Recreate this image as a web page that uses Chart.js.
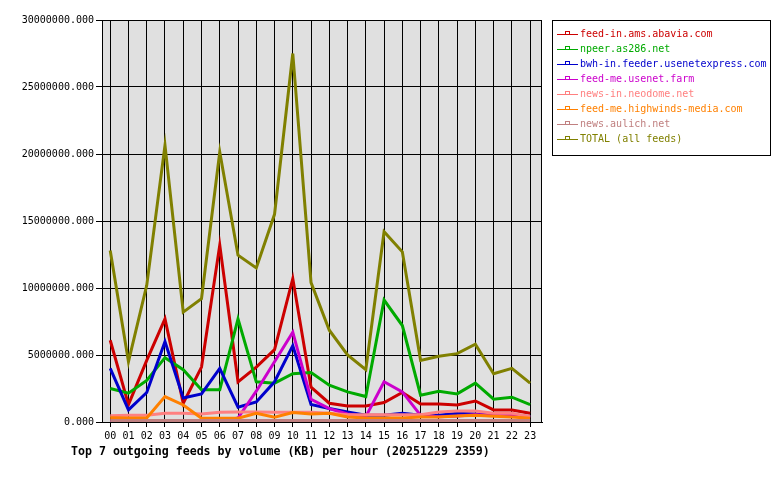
<!DOCTYPE html>
<html>
<head>
<meta charset="utf-8">
<script src="https://cdn.jsdelivr.net/npm/chart.js@4"></script>
<style>
  body { margin: 0; background: #fff; }
  #wrap { position: relative; width: 780px; height: 480px; background: #fff; }
  #legend {
    position: absolute; left: 552px; top: 20px; width: 213px; height: 125px;
    border: 1px solid #000; padding: 5px 0 4px 4px; box-sizing: content-box;
    font: 10px "DejaVu Sans Mono", monospace;
  }
  #legend div { height: 15px; line-height: 15px; white-space: nowrap; }
  .mk { display: inline-block; position: relative; width: 21px; height: 1px; vertical-align: middle; margin-right: 2px; }
  .mk i { position: absolute; left: 8px; top: -3px; width: 3px; height: 2px; border: 1px solid; border-bottom: none; }
  #title {
    position: absolute; left: 71px; top: 444px;
    font: bold 11.6px "DejaVu Sans Mono", monospace; color: #000; white-space: nowrap;
  }
</style>
</head>
<body>
<div id="wrap">
  <canvas id="chart" width="780" height="480"></canvas>
  <div id="legend"></div>
  <div id="title">Top 7 outgoing feeds by volume (KB) per hour (20251229 2359)</div>
</div>
<script>
const hours = ["00","01","02","03","04","05","06","07","08","09","10","11",
               "12","13","14","15","16","17","18","19","20","21","22","23"]

const feedNames = [
  "feed-in.ams.abavia.com",
  "npeer.as286.net",
  "bwh-in.feeder.usenetexpress.com",
  "feed-me.usenet.farm",
  "news-in.neodome.net",
  "feed-me.highwinds-media.com",
  "news.aulich.net",
  "TOTAL (all feeds)"
]
const feedColors = ["#cc0000", "#00aa00", "#0000cc", "#cc00cc", "#ff8080", "#ff8000", "#c08080", "#808000"]

// KB per hour
const abavia = [6100000, 1300000, 4600000, 7700000, 1400000, 4100000, 13200000, 3000000, 4100000, 5400000, 10700000, 2600000,
                1400000, 1200000, 1200000, 1450000, 2200000, 1350000, 1350000, 1270000, 1570000, 900000, 900000, 650000]
const as286 = [2500000, 2150000, 3100000, 4800000, 3900000, 2400000, 2400000, 7700000, 3000000, 2900000, 3600000, 3700000,
               2750000, 2250000, 1900000, 9100000, 7200000, 2000000, 2300000, 2100000, 2900000, 1700000, 1850000, 1300000]
const usenetexpress = [4000000, 900000, 2200000, 6000000, 1800000, 2100000, 4000000, 1100000, 1500000, 3000000, 5700000, 1300000,
                       1000000, 750000, 500000, 500000, 650000, 500000, 500000, 650000, 600000, 500000, 550000, 400000]
const usenetFarm = [0, 0, 0, 0, 0, 0, 0, 300000, 2300000, 4500000, 6700000, 1700000,
                    1000000, 600000, 400000, 3000000, 2250000, 500000, 400000, 450000, 550000, 500000, 550000, 350000]
const neodome = [470000, 500000, 500000, 650000, 650000, 600000, 720000, 750000, 750000, 720000, 720000, 720000,
                 650000, 550000, 550000, 550000, 550000, 550000, 750000, 820000, 820000, 650000, 650000, 400000]
const highwinds = [320000, 300000, 300000, 1900000, 1270000, 280000, 280000, 280000, 650000, 350000, 700000, 600000,
                   650000, 370000, 300000, 300000, 300000, 370000, 370000, 450000, 500000, 420000, 370000, 280000]
const aulich = [120000, 120000, 120000, 120000, 120000, 120000, 120000, 120000, 120000, 120000, 120000, 120000,
                120000, 120000, 120000, 120000, 120000, 120000, 120000, 120000, 120000, 120000, 120000, 120000]
const total = [12800000, 4500000, 10200000, 20650000, 8200000, 9200000, 20150000, 12450000, 11500000, 15500000, 27500000, 10400000,
               6850000, 5000000, 3900000, 14200000, 12700000, 4600000, 4900000, 5100000, 5800000, 3600000, 4000000, 2900000]

const series = [abavia, as286, usenetexpress, usenetFarm, neodome, highwinds, aulich, total]
const yTicks = [0, 5000000, 10000000, 15000000, 20000000, 25000000, 30000000]

const tickFont = { family: "DejaVu Sans Mono", size: 10 }

// html legend, boxed on the right
const legendBox = document.getElementById("legend")
feedNames.forEach((name, i) => {
  const row = document.createElement("div")
  row.style.color = feedColors[i]
  row.innerHTML = `<span class="mk" style="background:${feedColors[i]}"><i style="border-color:${feedColors[i]}"></i></span>`
  row.appendChild(document.createTextNode(name))
  legendBox.appendChild(row)
})

const plotFrame = {
  id: "plotFrame",
  beforeDraw(chart) {
    const { ctx, chartArea: a } = chart
    ctx.save()
    ctx.fillStyle = "#e0e0e0"
    ctx.fillRect(a.left, a.top, a.right - a.left, a.bottom - a.top)
    ctx.restore()
  },
  afterDatasetsDraw(chart) {
    const { ctx, chartArea: a } = chart
    ctx.save()
    ctx.strokeStyle = "#000"
    ctx.lineWidth = 1
    ctx.strokeRect(Math.round(a.left) + 0.5, Math.round(a.top) + 0.5,
                   Math.round(a.right - a.left) - 1, Math.round(a.bottom - a.top))
    ctx.restore()
  }
}

new Chart(document.getElementById("chart"), {
  type: "line",
  data: {
    datasets: series.map((vals, i) => ({
      label: feedNames[i],
      data: vals.map((v, h) => ({ x: h, y: v })),
      borderColor: feedColors[i],
      backgroundColor: feedColors[i],
      borderWidth: 3,
      pointRadius: 0,
      tension: 0,
      fill: false,
      order: -i
    }))
  },
  options: {
    responsive: false,
    animation: false,
    events: [],
    layout: { padding: { left: 0, top: 20, right: 238, bottom: 30 } },
    plugins: { legend: { display: false }, tooltip: { enabled: false }, title: { display: false } },
    scales: {
      x: {
        type: "linear",
        min: -0.45,
        max: 23.65,
        afterFit(scale) { scale.height = 28 },
        afterBuildTicks(scale) { scale.ticks = hours.map((_, i) => ({ value: i })) },
        ticks: { callback: v => hours[v], font: tickFont, color: "#000", padding: 3, maxRotation: 0, autoSkip: false },
        grid: { color: "#000", lineWidth: 1, tickLength: 5 },
        border: { display: true, color: "#000" }
      },
      y: {
        min: 0,
        max: 30000000,
        afterFit(scale) { scale.width = 102 },
        afterBuildTicks(scale) { scale.ticks = yTicks.map(v => ({ value: v })) },
        ticks: { callback: v => v.toFixed(3), font: tickFont, color: "#000", padding: 2 },
        grid: { color: "#000", lineWidth: 1, tickLength: 6 },
        border: { display: true, color: "#000" }
      }
    }
  },
  plugins: [plotFrame]
})
</script>
</body>
</html>
